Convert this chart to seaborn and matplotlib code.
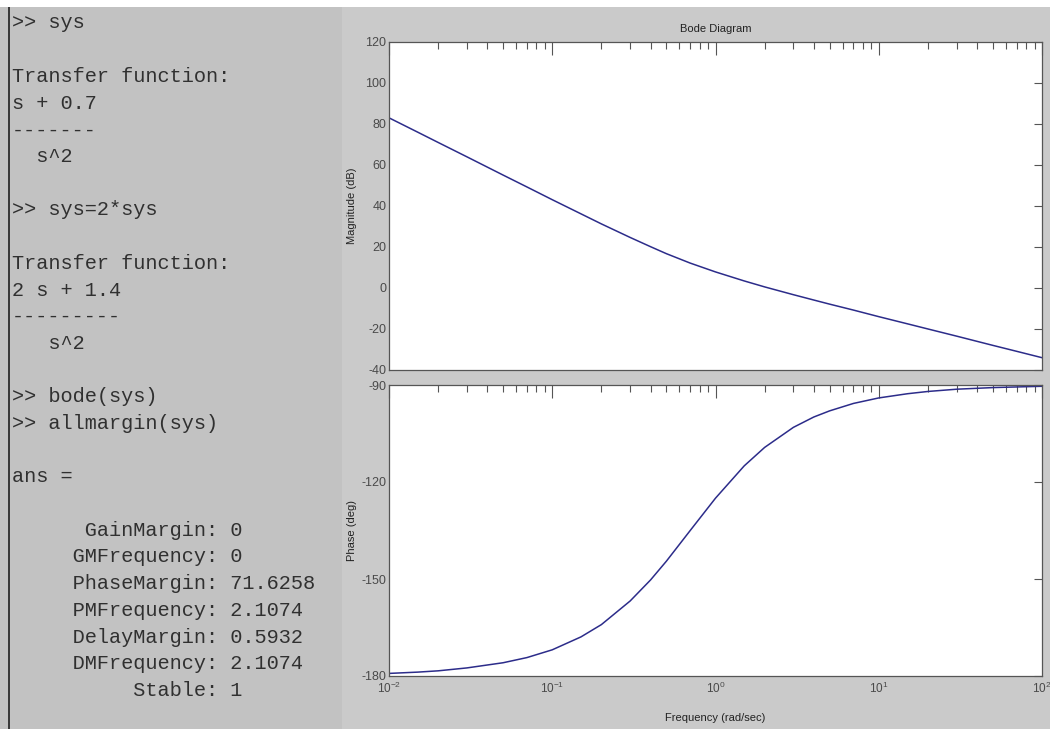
import numpy as np
import pandas as pd
import seaborn as sns
import matplotlib.pyplot as plt
from matplotlib.patches import Rectangle
from matplotlib.ticker import LogLocator, NullFormatter, FixedLocator

# ======================
# DATOS (leídos del diagrama)
# ======================
freq = [0.01, 0.015, 0.02, 0.03, 0.05, 0.07, 0.1, 0.15, 0.2, 0.3, 0.4, 0.5, 0.7,
        1, 1.5, 2, 3, 4, 5, 7, 10, 15, 20, 30, 50, 70, 100]
magnitude_db = [82.9, 75.9, 70.9, 63.9, 55.0, 49.2, 43.0, 36.1, 31.2, 24.6, 20.1, 16.7, 12.1,
                7.8, 3.4, 0.5, -3.3, -5.9, -7.9, -10.8, -14.0, -17.5, -20.0, -23.5, -28.0, -30.9, -34.0]
phase_deg = [-179.2, -178.8, -178.4, -177.5, -175.9, -174.3, -171.9, -167.9, -164.1, -156.8,
             -150.3, -144.5, -135.0, -125.0, -115.0, -109.3, -103.1, -99.9, -98.0, -95.7,
             -94.0, -92.7, -92.0, -91.3, -90.8, -90.6, -90.4]

mag_ticks = [-40, -20, 0, 20, 40, 60, 80, 100, 120]
phase_ticks = [-180, -150, -120, -90]

console_lines = [
    ">> sys",
    "",
    "Transfer function:",
    "s + 0.7",
    "-------",
    "  s^2",
    "",
    ">> sys=2*sys",
    "",
    "Transfer function:",
    "2 s + 1.4",
    "---------",
    "   s^2",
    "",
    ">> bode(sys)",
    ">> allmargin(sys)",
    "",
    "ans =",
    "",
    "      GainMargin: 0",
    "     GMFrequency: 0",
    "     PhaseMargin: 71.6258",
    "     PMFrequency: 2.1074",
    "     DelayMargin: 0.5932",
    "     DMFrequency: 2.1074",
    "          Stable: 1",
]

df = pd.DataFrame({"freq": freq, "mag": magnitude_db, "phase": phase_deg})

# ======================
# ESTILO
# ======================
sns.set_theme(style="white")
plt.rcParams['font.family'] = ['Liberation Sans', 'DejaVu Sans']
plt.rcParams['axes.unicode_minus'] = False

W, H = 1050, 729
fig = plt.figure(figsize=(W / 100, H / 100), dpi=100)
fig.patch.set_facecolor('#cacaca')

# panel de consola (izquierda)
fig.patches.append(Rectangle((0, 0), 342 / W, 1, transform=fig.transFigure,
                             facecolor='#c2c2c2', edgecolor='none', zorder=0))
fig.patches.append(Rectangle((0, 1 - 7 / H), 1, 7 / H, transform=fig.transFigure,
                             facecolor='white', edgecolor='none', zorder=1))
fig.patches.append(Rectangle((8 / W, 0), 2 / W, 1 - 7 / H, transform=fig.transFigure,
                             facecolor='#3a3a3a', edgecolor='none', zorder=1))

for i, line in enumerate(console_lines):
    if line:
        fig.text(12 / W, 1 - (23 + 26.7 * i) / H, line, family='Liberation Mono',
                 fontsize=14.6, color='#303030', ha='left', va='center')

# ======================
# DIAGRAMA DE BODE
# ======================
left, width = 389 / W, (1042 - 389) / W
ax_mag = fig.add_axes([left, 1 - 370 / H, width, (370 - 41.7) / H])
ax_ph = fig.add_axes([left, 1 - 676 / H, width, (676 - 385) / H])

line_color = '#2c2c8a'
sns.lineplot(data=df, x="freq", y="mag", ax=ax_mag, color=line_color, linewidth=1.1, sort=False)
sns.lineplot(data=df, x="freq", y="phase", ax=ax_ph, color=line_color, linewidth=1.1, sort=False)

for ax in (ax_mag, ax_ph):
    ax.set_xscale('log')
    ax.set_xlim(1e-2, 1e2)
    ax.set_facecolor('white')
    ax.xaxis.set_minor_locator(LogLocator(base=10, subs=np.arange(2, 10)))
    ax.xaxis.set_minor_formatter(NullFormatter())
    ax.tick_params(which='both', direction='in', top=True, right=True,
                   color='#555555', labelcolor='#4a4a4a', labelsize=9, width=0.8)
    ax.tick_params(axis='x', which='major', length=9, labelsize=8.5)
    ax.tick_params(axis='x', which='minor', length=5)
    ax.tick_params(axis='y', which='major', length=6, pad=2)
    for s in ax.spines.values():
        s.set_color('#555555')
        s.set_linewidth(0.9)

ax_mag.set_ylim(-40, 120)
ax_mag.yaxis.set_major_locator(FixedLocator(mag_ticks))
ax_mag.tick_params(axis='x', labelbottom=False)
ax_mag.set_xlabel('')
ax_mag.set_ylabel('Magnitude (dB)', fontsize=8, color='#222222')
ax_mag.yaxis.set_label_coords(-(389 - 357) / (1042 - 389), 0.5)
ax_mag.set_title('Bode Diagram', fontsize=8, color='#222222', pad=7)

ax_ph.set_ylim(-180, -90)
ax_ph.yaxis.set_major_locator(FixedLocator(phase_ticks))
ax_ph.set_ylabel('Phase (deg)', fontsize=8, color='#222222')
ax_ph.yaxis.set_label_coords(-(389 - 357) / (1042 - 389), 0.5)
ax_ph.set_xlabel('Frequency (rad/sec)', fontsize=8, color='#222222', labelpad=12)

plt.savefig('out.png', dpi=100, facecolor=fig.get_facecolor())
